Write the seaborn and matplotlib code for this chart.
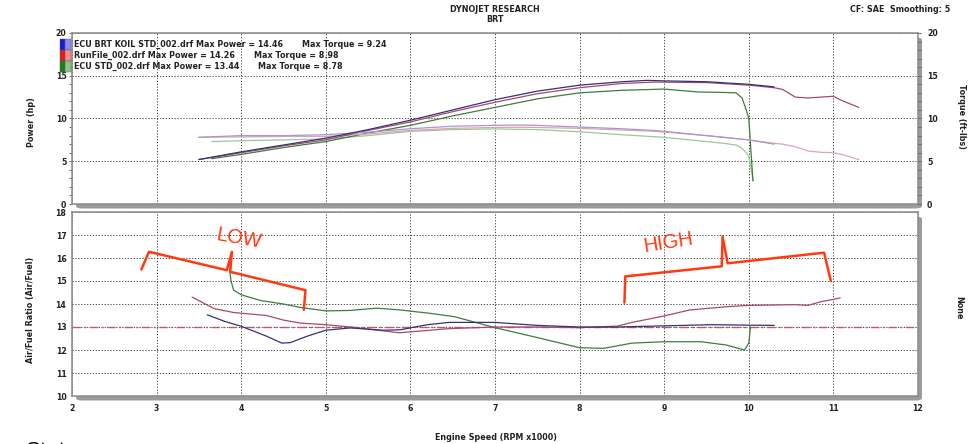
import numpy as np
import pandas as pd
import matplotlib
matplotlib.use("Agg")
import matplotlib.pyplot as plt
import seaborn as sns
from matplotlib.patches import FancyBboxPatch, Rectangle
from matplotlib.ticker import MultipleLocator

# ---------------- data ----------------
# ECU BRT KOIL STD_002.drf
blue_rpm = [3.5, 4.0, 4.5, 5.0, 5.5, 6.0, 6.5, 7.0, 7.3, 7.5, 8.0, 8.5, 8.8, 9.0, 9.5, 10.0, 10.3]
blue_hp = [5.2, 6.1, 6.9, 7.7, 8.7, 9.8, 11.0, 12.2, 12.8, 13.2, 13.9, 14.3, 14.46, 14.4, 14.3, 14.0, 13.7]
blue_tq = [7.8, 8.0, 8.0, 8.1, 8.4, 8.8, 9.1, 9.2, 9.24, 9.2, 9.0, 8.8, 8.65, 8.5, 8.0, 7.5, 7.0]

# RunFile_002.drf
red_rpm = [3.5, 4.0, 4.5, 5.0, 5.5, 6.0, 6.5, 7.0, 7.3, 7.5, 8.0, 8.5, 8.9, 9.5, 10.0, 10.3,
           10.4, 10.55, 10.7, 10.85, 11.0, 11.1, 11.3]
red_hp = [5.2, 6.0, 6.8, 7.5, 8.6, 9.6, 10.8, 11.9, 12.5, 12.9, 13.6, 14.1, 14.26, 14.2, 13.9, 13.6,
          13.4, 12.5, 12.4, 12.5, 12.6, 12.1, 11.3]
red_tq = [7.8, 7.85, 7.9, 7.9, 8.2, 8.6, 8.85, 8.95, 8.98, 8.95, 8.85, 8.65, 8.5, 8.0, 7.5, 7.1,
          7.0, 6.7, 6.2, 6.05, 6.0, 5.8, 5.2]

# ECU STD_002.drf
green_rpm = [3.65, 4.0, 4.5, 5.0, 5.5, 6.0, 6.5, 7.0, 7.5, 8.0, 8.5, 9.0, 9.4, 9.7, 9.85,
             9.92, 9.97, 10.0, 10.02, 10.04, 10.05]
green_hp = [5.3, 5.8, 6.6, 7.3, 8.3, 9.2, 10.3, 11.3, 12.3, 13.0, 13.3, 13.44, 13.1, 13.05, 13.0,
            12.4, 11.0, 10.0, 7.0, 4.0, 2.7]
green_tq = [7.3, 7.4, 7.5, 7.6, 8.0, 8.5, 8.7, 8.78, 8.7, 8.45, 8.1, 7.8, 7.4, 7.1, 6.9,
            6.5, 6.0, 5.5, 4.5, 3.4, 2.7]

# Air/Fuel ratio traces
blue_afr_rpm = [3.6, 3.8, 4.0, 4.3, 4.48, 4.58, 4.78, 5.0, 5.29, 5.68, 5.88, 6.2, 6.46, 7.0,
                7.5, 8.0, 8.45, 9.0, 9.56, 10.0, 10.3]
blue_afr = [13.53, 13.25, 13.03, 12.6, 12.3, 12.32, 12.6, 12.86, 12.96, 12.86, 12.88, 13.1, 13.2,
            13.2, 13.07, 13.0, 13.0, 13.05, 13.1, 13.08, 13.07]

red_afr_rpm = [3.42, 3.68, 3.91, 4.0, 4.3, 4.5, 4.7, 5.0, 5.29, 5.87, 6.46, 7.0, 7.5, 8.0, 8.45,
               8.62, 9.0, 9.3, 9.73, 10.0, 10.55, 10.7, 10.85, 11.0, 11.08]
red_afr = [14.3, 13.8, 13.63, 13.6, 13.5, 13.3, 13.17, 13.1, 13.0, 12.75, 12.93, 13.0, 13.0, 12.97,
           13.04, 13.2, 13.48, 13.74, 13.88, 13.94, 13.97, 13.94, 14.1, 14.2, 14.27]

green_afr_rpm = [3.86, 3.88, 3.91, 4.0, 4.23, 4.5, 4.7, 5.0, 5.29, 5.6, 5.88, 6.22, 6.52, 7.0,
                 7.5, 8.0, 8.28, 8.62, 9.0, 9.43, 9.73, 9.95, 10.0, 10.02]
green_afr = [15.55, 15.0, 14.6, 14.4, 14.15, 14.0, 13.85, 13.7, 13.72, 13.82, 13.74, 13.6, 13.45,
             12.97, 12.54, 12.1, 12.07, 12.3, 12.36, 12.36, 12.22, 12.0, 12.3, 13.0]

target_afr = 13.0

run_names = ["ECU BRT KOIL STD_002.drf", "RunFile_002.drf", "ECU STD_002.drf"]
torque_label_x = [302, 254, 258]

# hand-drawn range brackets (rpm, AFR)
low_rpm = [2.82, 2.91, 3.83, 3.89, 3.87, 4.76, 4.74]
low_afr = [15.5, 16.27, 15.47, 16.27, 15.4, 14.6, 13.75]
high_rpm = [8.53, 8.54, 9.68, 9.69, 9.75, 10.89, 10.97]
high_afr = [14.06, 15.2, 15.64, 16.93, 15.77, 16.23, 15.0]

# ---------------- style ----------------
sns.set_style("white")
plt.rcParams["font.family"] = ["DejaVu Sans"]

W, H = 972, 444
fig = plt.figure(figsize=(W / 100, H / 100), dpi=100)
fig.patch.set_facecolor("white")


def fx(px):
    return px / W


def fy(py):
    return 1 - py / H


def panel(left, top, right, bottom):
    rect = [fx(left), fy(bottom), fx(right) - fx(left), fy(top) - fy(bottom)]
    # drop shadow behind the plotting area
    sh = FancyBboxPatch((rect[0] + fx(4), rect[1] - 4.5 / H), rect[2], rect[3],
                        boxstyle="round,pad=0,rounding_size=0.006",
                        transform=fig.transFigure, fc="#9b9b9b", ec="none", zorder=0)
    fig.add_artist(sh)
    ax = fig.add_axes(rect, zorder=1)
    ax.set_facecolor("white")
    for s in ax.spines.values():
        s.set_color("#8a8a8a")
        s.set_linewidth(1.1)
    return ax


ax_top = panel(72, 33, 918, 204)
ax_afr = panel(72, 212, 918, 396)

grid_kw = dict(color="#4a4a4a", lw=0.7, ls=(0, (1.3, 1.7)))
tick_font = dict(fontsize=5.6, fontweight="bold", color="#222222")

c_blue_p, c_blue_t = "#35307a", "#a797d2"
c_red_p, c_red_t = "#a84a68", "#dea3b3"
c_green_p, c_green_t = "#3d7d3d", "#98c998"

# ---------------- power / torque ----------------
for rpm, hp, tq, cp, ct in [
    (green_rpm, green_hp, green_tq, c_green_p, c_green_t),
    (red_rpm, red_hp, red_tq, c_red_p, c_red_t),
    (blue_rpm, blue_hp, blue_tq, c_blue_p, c_blue_t),
]:
    df = pd.DataFrame({"rpm": rpm, "hp": hp, "tq": tq})
    sns.lineplot(data=df, x="rpm", y="tq", ax=ax_top, color=ct, lw=0.9,
                 estimator=None, sort=False, legend=False)
    sns.lineplot(data=df, x="rpm", y="hp", ax=ax_top, color=cp, lw=0.9,
                 estimator=None, sort=False, legend=False)

ax_top.set_xlim(2, 12)
ax_top.set_ylim(0, 20)
ax_top.set_xticks(np.arange(2, 13, 1))
ax_top.set_yticks([0, 5, 10, 15, 20])
ax_top.yaxis.set_minor_locator(MultipleLocator(1))
ax_top.grid(True, which="major", **grid_kw)
ax_top.tick_params(axis="x", which="both", bottom=False, labelbottom=False)
ax_top.tick_params(axis="y", which="both", direction="out", length=2.5, width=0.7,
                   color="#666666", pad=1.5)
ax_top.set_yticklabels([str(v) for v in [0, 5, 10, 15, 20]], **tick_font)
ax_top.set_xlabel("")
ax_top.set_ylabel("")

ax_tq = ax_top.twinx()
ax_tq.set_zorder(1.5)
ax_tq.set_ylim(0, 20)
ax_tq.set_yticks([0, 5, 10, 15, 20])
ax_tq.yaxis.set_minor_locator(MultipleLocator(1))
ax_tq.set_yticklabels([str(v) for v in [0, 5, 10, 15, 20]], **tick_font)
ax_tq.tick_params(axis="y", which="both", direction="out", length=2.5, width=0.7,
                  color="#666666", pad=4)
for s in ax_tq.spines.values():
    s.set_visible(False)

# ---------------- air / fuel ----------------
ax_afr.axhline(target_afr, color="#c4566a", lw=1.0, ls=(0, (6, 2.5, 1.5, 2.5)), zorder=2)
for rpm, afr, c in [
    (green_afr_rpm, green_afr, c_green_p),
    (red_afr_rpm, red_afr, c_red_p),
    (blue_afr_rpm, blue_afr, c_blue_p),
]:
    sns.lineplot(x=rpm, y=afr, ax=ax_afr, color=c, lw=0.9, estimator=None,
                 sort=False, legend=False)

ax_afr.set_xlim(2, 12)
ax_afr.set_ylim(10, 18)
ax_afr.set_xticks(np.arange(2, 13, 1))
ax_afr.set_yticks(np.arange(10, 19, 1))
ax_afr.xaxis.set_minor_locator(MultipleLocator(0.2))
ax_afr.yaxis.set_minor_locator(MultipleLocator(0.2))
ax_afr.grid(True, which="major", **grid_kw)
ax_afr.set_xticklabels([str(v) for v in range(2, 13)], **tick_font)
ax_afr.set_yticklabels([str(v) for v in range(10, 19)], **tick_font)
ax_afr.tick_params(axis="x", which="both", direction="in", length=2.5, width=0.7,
                   color="#555555", pad=6)
ax_afr.tick_params(axis="y", which="both", direction="out", length=2.5, width=0.7,
                   color="#666666", pad=1.5)
ax_afr.set_xlabel("")
ax_afr.set_ylabel("")

# range markup
mark_c = "#ff3a12"
ax_afr.plot(low_rpm, low_afr, color=mark_c, lw=1.8, solid_joinstyle="round",
            solid_capstyle="round", clip_on=False, zorder=5)
ax_afr.plot(high_rpm, high_afr, color=mark_c, lw=1.8, solid_joinstyle="round",
            solid_capstyle="round", clip_on=False, zorder=5)
ax_afr.text(3.97, 16.84, "LOW", color=mark_c, fontsize=14.5, rotation=-10,
            ha="center", va="center", family="Liberation Sans", zorder=5)
ax_afr.text(9.05, 16.67, "HIGH", color=mark_c, fontsize=14.5, rotation=9,
            ha="center", va="center", family="Liberation Sans", zorder=5)

# ---------------- legend block ----------------
swatches = [("#1a1ad0", "#8a8aff"), ("#e01e1e", "#ff8a8a"), ("#1b7f1b", "#86c886")]
powers = [max(blue_hp), max(red_hp), max(green_hp)]
torques = [max(blue_tq), max(red_tq), max(green_tq)]
row_top = [39, 50, 61]
for i, (dark, light) in enumerate(swatches):
    y0 = row_top[i]
    for x0, c in [(59.5, dark), (65, light)]:
        fig.add_artist(Rectangle((fx(x0), fy(y0 + 10.8)), 5.5 / W, 10.8 / H,
                                 transform=fig.transFigure, fc=c, ec="#555555",
                                 lw=0.3, zorder=6))
    yc = fy(y0 + 5.6)
    fig.text(fx(74), yc, f"{run_names[i]} Max Power = {powers[i]:.2f}",
             fontsize=5.8, fontweight="bold", color="#222222", va="center", zorder=7)
    fig.text(fx(torque_label_x[i]), yc, f"Max Torque = {torques[i]:.2f}",
             fontsize=5.8, fontweight="bold", color="#222222", va="center", zorder=7)

# ---------------- header / labels ----------------
lab = dict(fontsize=5.8, fontweight="bold", color="#222222")
fig.text(fx(495), fy(9), "DYNOJET RESEARCH", ha="center", va="center", **lab)
fig.text(fx(495), fy(19), "BRT", ha="center", va="center", **lab)
fig.text(fx(900), fy(10), "CF: SAE  Smoothing: 5", ha="center", va="center", **lab)
fig.text(fx(31), fy(122), "Power (hp)", rotation=90, ha="center", va="center", **lab)
fig.text(fx(961), fy(117), "Torque (ft-lbs)", rotation=270, ha="center", va="center", **lab)
fig.text(fx(31), fy(310), "Air/Fuel Ratio (Air/Fuel)", rotation=90, ha="center",
         va="center", **lab)
fig.text(fx(959), fy(308), "None", rotation=270, ha="center", va="center", **lab)
fig.text(fx(496), fy(437), "Engine Speed (RPM x1000)", ha="center", va="center", **lab)
fig.text(fx(26), fy(441), "Stats", ha="left", va="top", fontsize=16,
         family="Liberation Sans", color="#111111")

fig.savefig("out.png", dpi=100, facecolor="white")
